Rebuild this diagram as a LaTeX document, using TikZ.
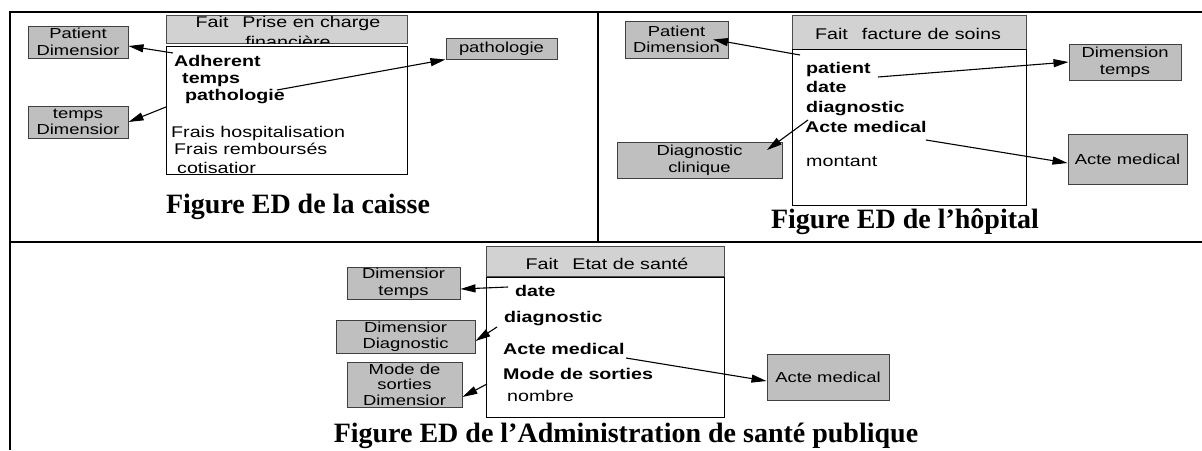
\documentclass[tikz,border=0pt]{standalone}
\usepackage{fontspec}
\setmainfont{Liberation Serif}
\newfontfamily\dsans[FakeStretch=1.27]{Liberation Sans}
\usetikzlibrary{arrows.meta,calc}
\begin{document}
\begin{tikzpicture}[x=1pt,y=-1pt,
  frame/.style={line width=2pt},
  dimbox/.style={draw=black!75,line width=1pt,fill=gray!50,inner sep=0pt,align=center,font=\dsans\fontsize{14.5}{16.5}\selectfont},
  facthead/.style={draw=black!70,line width=1pt,fill=gray!35,inner sep=0pt,anchor=north west},
  factbody/.style={draw=black,line width=1pt,fill=white,inner sep=0pt,anchor=north west},
  attr/.style={anchor=base west,inner sep=0pt,font=\dsans\bfseries\fontsize{15.5}{17}\selectfont},
  meas/.style={anchor=base west,inner sep=0pt,font=\dsans\fontsize{15.5}{17}\selectfont},
  htext/.style={anchor=base,inner sep=0pt,font=\dsans\fontsize{15.5}{17}\selectfont},
  conn/.style={line width=1.1pt,-{Triangle[length=15pt,width=8pt]}},
  figcap/.style={inner sep=0pt,anchor=base,font=\bfseries\fontsize{28}{30}\selectfont}
]
\useasboundingbox[fill=white] (0,0) rectangle (1202,450);

% frame
\draw[frame] (10,450) -- (10,12) -- (1202,12);
\draw[frame] (598,12) -- (598,242);
\draw[frame] (10,242) -- (1202,242);

% ===== left panel =====
\node[dimbox,minimum width=100pt,minimum height=32pt] (pd1) at (78,42) {Patient\\Dimensior};
\node[dimbox,minimum width=100pt,minimum height=32pt] (td1) at (78,122) {temps\\Dimensior};
\node[dimbox,minimum width=111pt,minimum height=21pt] (pa1) at (501.5,48.5) {pathologie};
\node[facthead,minimum width=241pt,minimum height=28pt] (fh1) at (166,15) {};
\node[factbody,minimum width=241pt,minimum height=128pt] (fb1) at (166,46) {};
\begin{scope}
  \clip (166,15) rectangle (407,43);
  \node[htext] (fh1a) at (288,27) {Fait\hspace{0.9em}Prise en charge};
  \node[htext] (fh1b) at (288,47) {financière};
\end{scope}
\begin{scope}
  \clip (166,46) rectangle (407,174);
  \node[attr] (a11) at (174,66) {Adherent};
  \node[attr] (a12) at (182,83) {temps};
  \node[attr] (a13) at (185,100) {pathologie};
  \node[meas] (m11) at (171,137) {Frais hospitalisation};
  \node[meas] (m12) at (174,154) {Frais remboursés};
  \node[meas] (m13) at (177,173) {cotisatior};
\end{scope}
\coordinate (s11) at (173,53);
\coordinate (s12) at (166,107);
\coordinate (s13) at (277,90);
\draw[conn] (s11) -- ([yshift=-4pt]pd1.east);
\draw[conn] (s12) -- (td1.east);
\draw[conn] (s13) -- (pa1.south west);
\node[figcap] (c1) at (298,213) {Figure ED de la caisse};

% ===== right panel =====
\node[dimbox,minimum width=103pt,minimum height=37pt] (pd2) at (676.5,39.5) {Patient\\Dimension};
\node[dimbox,minimum width=112pt,minimum height=36pt] (dt2) at (1125,62) {Dimension\\temps};
\node[dimbox,minimum width=165pt,minimum height=36pt] (dc2) at (699.5,160) {Diagnostic\\clinique};
\node[dimbox,minimum width=119pt,minimum height=50pt] (am2) at (1127.5,159) {Acte medical};
\node[facthead,minimum width=234pt,minimum height=34pt] (fh2) at (792,15) {};
\node[factbody,minimum width=234pt,minimum height=156pt] (fb2) at (792,49) {};
\node[htext] (fh2a) at (908,39) {Fait\hspace{0.9em}facture de soins};
\node[attr] (a21) at (806,73) {patient};
\node[attr] (a22) at (806,92) {date};
\node[attr] (a23) at (806,112) {diagnostic};
\node[attr] (a24) at (805,132) {Acte medical};
\node[meas] (m21) at (806,166) {montant};
\coordinate (s21) at (800,55);
\coordinate (s22) at (878,77);
\coordinate (s23) at (808,120);
\coordinate (s24) at (926,140);
\draw[conn] (s21) -- ([xshift=36.5pt]pd2.center);
\draw[conn] (s22) -- (dt2.west);
\draw[conn] (s23) -- ([xshift=67.5pt,yshift=10pt]dc2.center);
\draw[conn] (s24) -- ([yshift=-4pt]am2.west);
\node[figcap] (c2) at (905,228) {Figure ED de l’hôpital};

% ===== bottom panel =====
\node[dimbox,minimum width=113pt,minimum height=32pt] (dt3) at (403.5,283) {Dimensior\\temps};
\node[dimbox,minimum width=139pt,minimum height=33pt] (dd3) at (405.5,336.5) {Dimensior\\Diagnostic};
\node[dimbox,minimum width=115pt,minimum height=45pt,font=\dsans\fontsize{14.5}{15.5}\selectfont] (ms3) at (404.5,384.5) {Mode de\\sorties\\Dimensior};
\node[dimbox,minimum width=122pt,minimum height=46pt] (am3) at (828,377) {Acte medical};
\node[facthead,minimum width=238pt,minimum height=30pt] (fh3) at (486,246) {};
\node[factbody,minimum width=238pt,minimum height=140pt] (fb3) at (486,277) {};
\node[htext] (fh3a) at (607,269) {Fait\hspace{0.9em}Etat de santé};
\node[attr] (a31) at (515,296) {date};
\node[attr] (a32) at (504,322) {diagnostic};
\node[attr] (a33) at (503,354) {Acte medical};
\node[attr] (a34) at (503,379) {Mode de sorties};
\node[meas] (m31) at (507,401) {nombre};
\coordinate (s31) at (508,287);
\coordinate (s32) at (497,327);
\coordinate (s33) at (487,384);
\coordinate (s34) at (626,358);
\draw[conn] (s31) -- ([yshift=-6pt]dt3.east);
\draw[conn] (s32) -- ([yshift=-4.5pt]dd3.east);
\draw[conn] (s33) -- ([yshift=-12.5pt]ms3.east);
\draw[conn] (s34) -- ([yshift=-4pt]am3.west);
\node[figcap] (c3) at (626,442) {Figure ED de l’Administration de santé publique};
\end{tikzpicture}
\end{document}
